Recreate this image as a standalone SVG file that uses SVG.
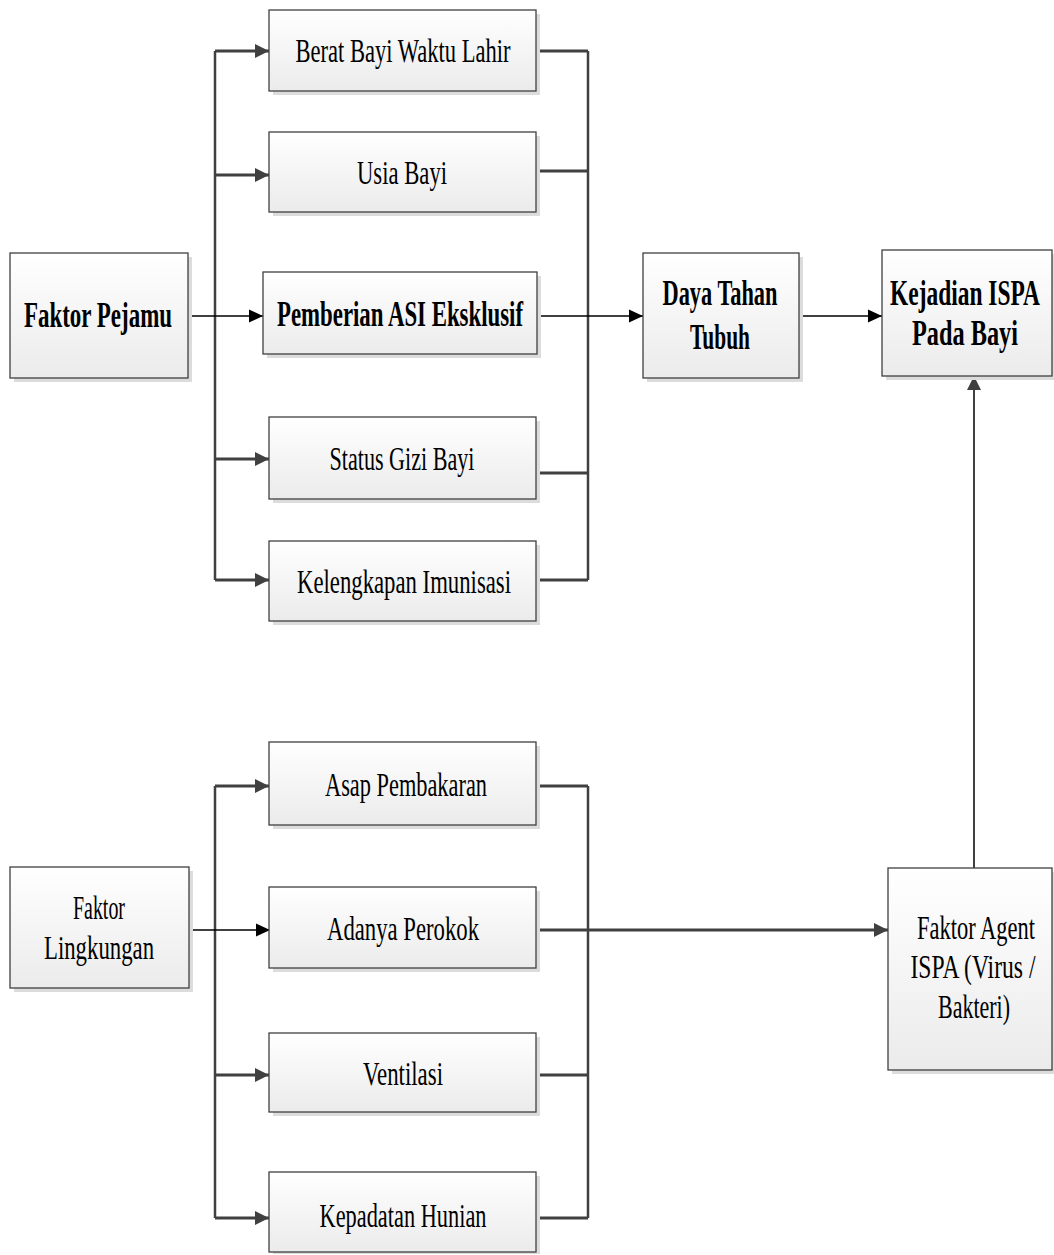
<svg xmlns="http://www.w3.org/2000/svg" width="1054" height="1255" viewBox="0 0 1054 1255">
<defs>
<linearGradient id="g" x1="0" y1="0" x2="0" y2="1">
<stop offset="0" stop-color="#ffffff"/>
<stop offset="1" stop-color="#ebebeb"/>
</linearGradient>
<marker id="ad" markerUnits="userSpaceOnUse" markerWidth="16" markerHeight="16" refX="14" refY="8" orient="auto">
<path d="M0,1 L14,8 L0,15 Z" fill="#404040"/>
</marker>
<marker id="ab" markerUnits="userSpaceOnUse" markerWidth="16" markerHeight="16" refX="14" refY="8" orient="auto">
<path d="M0,1.5 L14,8 L0,14.5 Z" fill="#000000"/>
</marker>
</defs>
<style>
.sh{fill:#dcdcdc}
.bx{fill:url(#g);stroke:#404040;stroke-width:1.3}
.t{font-family:"Liberation Serif","Times New Roman",serif;font-size:33px;fill:#000;text-anchor:middle}
.b{font-weight:bold;font-size:35px}
.thick{fill:none;stroke:#404040;stroke-width:3}
.bus{fill:none;stroke:#404040;stroke-width:2.5}
.thin{fill:none;stroke:#000;stroke-width:1.3}
.up{fill:none;stroke:#404040;stroke-width:2}
</style>
<g id="connectors">
<path class="bus" d="M215 51 V580"/>
<path class="thick" d="M215 51 H269" marker-end="url(#ad)"/>
<path class="thick" d="M215 175 H269" marker-end="url(#ad)"/>
<path class="thick" d="M215 459 H269" marker-end="url(#ad)"/>
<path class="thick" d="M215 580 H269" marker-end="url(#ad)"/>
<path class="thin" d="M188 316 H263" marker-end="url(#ab)"/>
<path class="bus" d="M588 51 V580"/>
<path class="thick" d="M536 51 H588"/>
<path class="thick" d="M536 171 H588"/>
<path class="thick" d="M536 473 H588"/>
<path class="thick" d="M536 580 H588"/>
<path class="thin" d="M537 316 H643" marker-end="url(#ab)"/>
<path class="thin" d="M800 316 H882" marker-end="url(#ab)"/>
<path class="bus" d="M215 786 V1218"/>
<path class="thick" d="M215 786 H269" marker-end="url(#ad)"/>
<path class="thick" d="M215 1075 H269" marker-end="url(#ad)"/>
<path class="thick" d="M215 1218 H269" marker-end="url(#ad)"/>
<path class="thin" d="M189 930 H270" marker-end="url(#ab)"/>
<path class="bus" d="M588 786 V1218"/>
<path class="thick" d="M537 786 H588"/>
<path class="thick" d="M537 1075 H588"/>
<path class="thick" d="M537 1218 H588"/>
<path class="thick" d="M537 930 H888" marker-end="url(#ad)"/>
<path class="up" d="M974 868 V376" marker-end="url(#ad)"/>
</g>
<g id="berat">
<rect class="sh" x="273" y="14" width="267" height="81"/>
<rect class="bx" x="269" y="10" width="267" height="81"/>
<text class="t" transform="translate(403,62) scale(0.72,1)" textLength="298.6" lengthAdjust="spacingAndGlyphs">Berat Bayi Waktu Lahir</text>
</g>
<g id="usia">
<rect class="sh" x="273" y="136" width="267" height="80"/>
<rect class="bx" x="269" y="132" width="267" height="80"/>
<text class="t" transform="translate(402,184) scale(0.72,1)" textLength="125" lengthAdjust="spacingAndGlyphs">Usia Bayi</text>
</g>
<g id="pemberian">
<rect class="sh" x="267" y="276" width="274" height="82"/>
<rect class="bx" x="263" y="272" width="274" height="82"/>
<text class="t b" transform="translate(400,326) scale(0.72,1)" textLength="341.7" lengthAdjust="spacingAndGlyphs">Pemberian ASI Eksklusif</text>
</g>
<g id="status">
<rect class="sh" x="273" y="421" width="267" height="82"/>
<rect class="bx" x="269" y="417" width="267" height="82"/>
<text class="t" transform="translate(402,470) scale(0.72,1)" textLength="201.4" lengthAdjust="spacingAndGlyphs">Status Gizi Bayi</text>
</g>
<g id="kelengkapan">
<rect class="sh" x="273" y="545" width="267" height="80"/>
<rect class="bx" x="269" y="541" width="267" height="80"/>
<text class="t" transform="translate(404,593) scale(0.72,1)" textLength="297.2" lengthAdjust="spacingAndGlyphs">Kelengkapan Imunisasi</text>
</g>
<g id="pejamu">
<rect class="sh" x="14" y="257" width="178" height="125"/>
<rect class="bx" x="10" y="253" width="178" height="125"/>
<text class="t b" transform="translate(98,327) scale(0.72,1)" textLength="205.6" lengthAdjust="spacingAndGlyphs">Faktor Pejamu</text>
</g>
<g id="daya">
<rect class="sh" x="647" y="257" width="156" height="125"/>
<rect class="bx" x="643" y="253" width="156" height="125"/>
<text class="t b" transform="translate(720,305) scale(0.72,1)" textLength="159.7" lengthAdjust="spacingAndGlyphs">Daya Tahan</text>
<text class="t b" transform="translate(720,349) scale(0.72,1)" textLength="83.3" lengthAdjust="spacingAndGlyphs">Tubuh</text>
</g>
<g id="kejadian">
<rect class="sh" x="886" y="254" width="170" height="126"/>
<rect class="bx" x="882" y="250" width="170" height="126"/>
<text class="t b" transform="translate(965,305) scale(0.72,1)" textLength="208.3" lengthAdjust="spacingAndGlyphs">Kejadian ISPA</text>
<text class="t b" transform="translate(965,345) scale(0.72,1)" textLength="147.2" lengthAdjust="spacingAndGlyphs">Pada Bayi</text>
</g>
<g id="asap">
<rect class="sh" x="273" y="746" width="267" height="83"/>
<rect class="bx" x="269" y="742" width="267" height="83"/>
<text class="t" transform="translate(406,796) scale(0.72,1)" textLength="225" lengthAdjust="spacingAndGlyphs">Asap Pembakaran</text>
</g>
<g id="adanya">
<rect class="sh" x="273" y="891" width="267" height="81"/>
<rect class="bx" x="269" y="887" width="267" height="81"/>
<text class="t" transform="translate(403,940) scale(0.72,1)" textLength="211.1" lengthAdjust="spacingAndGlyphs">Adanya Perokok</text>
</g>
<g id="ventilasi">
<rect class="sh" x="273" y="1037" width="267" height="79"/>
<rect class="bx" x="269" y="1033" width="267" height="79"/>
<text class="t" transform="translate(403,1085) scale(0.72,1)" textLength="111.1" lengthAdjust="spacingAndGlyphs">Ventilasi</text>
</g>
<g id="kepadatan">
<rect class="sh" x="273" y="1176" width="267" height="78"/>
<rect class="bx" x="269" y="1172" width="267" height="80"/>
<text class="t" transform="translate(403,1227) scale(0.72,1)" textLength="231.9" lengthAdjust="spacingAndGlyphs">Kepadatan Hunian</text>
</g>
<g id="lingkungan">
<rect class="sh" x="14" y="871" width="179" height="121"/>
<rect class="bx" x="10" y="867" width="179" height="121"/>
<text class="t" transform="translate(99,919) scale(0.72,1)" textLength="72.2" lengthAdjust="spacingAndGlyphs">Faktor</text>
<text class="t" transform="translate(99,959) scale(0.72,1)" textLength="152.8" lengthAdjust="spacingAndGlyphs">Lingkungan</text>
</g>
<g id="agent">
<rect class="sh" x="892" y="872" width="164" height="202"/>
<rect class="bx" x="888" y="868" width="164" height="202"/>
<text class="t" transform="translate(976,939) scale(0.72,1)" textLength="163.9" lengthAdjust="spacingAndGlyphs">Faktor Agent</text>
<text class="t" transform="translate(973,978) scale(0.72,1)" textLength="173.6" lengthAdjust="spacingAndGlyphs">ISPA (Virus /</text>
<text class="t" transform="translate(974,1018) scale(0.72,1)" textLength="100" lengthAdjust="spacingAndGlyphs">Bakteri)</text>
</g>
</svg>
